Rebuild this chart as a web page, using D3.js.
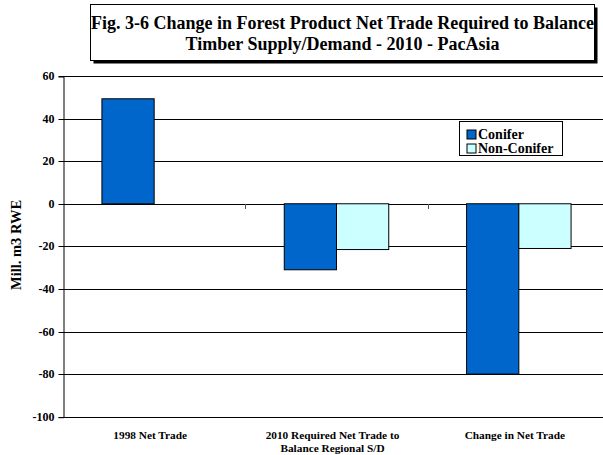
<!DOCTYPE html>
<html lang="en">
<head>
    <meta charset="utf-8">
    <title>Fig. 3-6 Forest Product Net Trade - PacAsia</title>
    <script src="https://d3js.org/d3.v7.min.js"></script>
    <style>
        body { margin: 0; background: #fff; }
        text { font-family: "Liberation Serif", "Times New Roman", serif; font-weight: bold; }
    </style>
</head>
<body>
<script>
    // chart data
    const categories = ["1998 Net Trade", "2010 Required Net Trade to|Balance Regional S/D", "Change in Net Trade"];
    const series = ["Conifer", "Non-Conifer"];
    const conifer = [49.3, -31, -80];
    const nonConifer = [0, -21.5, -21];
    const yTicks = [-100, -80, -60, -40, -20, 0, 20, 40, 60];
    const colors = ["#0066CC", "#CCFFFF"];

    const W = 603, H = 455;
    const plotLeft = 63, plotTop = 76, plotBottom = 416.7, plotRight = 610;

    const svg = d3.select("body").append("svg")
        .attr("width", W)
        .attr("height", H);

    // scales
    const x0 = d3.scaleBand().domain(d3.range(categories.length)).range([plotLeft, plotRight]);
    const x1 = d3.scaleBand().domain(series).range([0, x0.bandwidth()])
        .paddingInner(0).paddingOuter(0.745);
    const y = d3.scaleLinear().domain([-100, 60]).range([plotBottom, plotTop]);

    // gridlines
    svg.append("g")
        .selectAll("line")
        .data(yTicks)
        .join("line")
        .attr("x1", plotLeft).attr("x2", W)
        .attr("y1", d => Math.round(y(d)) + 0.5)
        .attr("y2", d => Math.round(y(d)) + 0.5)
        .attr("stroke", "#000")
        .attr("stroke-width", 1);

    // y axis (hyphen instead of unicode minus, like the original)
    const yAxis = svg.append("g")
        .attr("transform", "translate(" + (plotLeft + 0.5) + ",0.5)")
        .call(d3.axisLeft(y).tickValues(yTicks).tickSize(5).tickPadding(4).tickFormat(d => String(d)));
    yAxis.select(".domain").attr("stroke", "#000");
    yAxis.selectAll("text").attr("font-size", 12).attr("fill", "#000");
    yAxis.selectAll(".tick").attr("transform", d => "translate(0," + Math.round(y(d)) + ")");

    // category tick marks on the zero line
    svg.append("g")
        .selectAll("line")
        .data(d3.range(1, categories.length))
        .join("line")
        .attr("x1", d => Math.round(x0(d)) + 0.5)
        .attr("x2", d => Math.round(x0(d)) + 0.5)
        .attr("y1", Math.round(y(0)))
        .attr("y2", Math.round(y(0)) + 5)
        .attr("stroke", "#555");

    // bars
    const rows = categories.map((c, i) => [
        {s: series[0], v: conifer[i], c: colors[0]},
        {s: series[1], v: nonConifer[i], c: colors[1]}
    ]);

    svg.append("g")
        .selectAll("g")
        .data(rows)
        .join("g")
        .attr("transform", (d, i) => "translate(" + x0(i) + ",0)")
        .selectAll("rect")
        .data(d => d.filter(b => b.v !== 0))
        .join("rect")
        .attr("x", d => x1(d.s))
        .attr("width", x1.bandwidth())
        .attr("y", d => y(Math.max(0, d.v)))
        .attr("height", d => Math.abs(y(d.v) - y(0)))
        .attr("fill", d => d.c)
        .attr("stroke", "#000")
        .attr("stroke-width", 1);

    // category labels
    svg.append("g")
        .selectAll("text")
        .data(categories)
        .join("text")
        .attr("x", (d, i) => x0(i) + x0.bandwidth() / 2 - 4)
        .attr("y", 439)
        .attr("text-anchor", "middle")
        .attr("font-size", 11.3)
        .selectAll("tspan")
        .data(d => d.split("|"))
        .join("tspan")
        .attr("x", function() { return this.parentNode.getAttribute("x"); })
        .attr("dy", (d, i) => i === 0 ? 0 : 12.5)
        .text(d => d);

    // y axis title
    svg.append("text")
        .attr("transform", "translate(21,245) rotate(-90)")
        .attr("text-anchor", "middle")
        .attr("font-size", 14.5)
        .text("Mill. m3 RWE");

    // legend
    const lg = svg.append("g").attr("transform", "translate(459.5,121.5)");
    lg.append("rect").attr("width", 103).attr("height", 34)
        .attr("fill", "#fff").attr("stroke", "#000");
    series.forEach((s, i) => {
        lg.append("rect")
            .attr("x", 7.5).attr("y", 8.5 + i * 14)
            .attr("width", 9).attr("height", 9)
            .attr("fill", colors[i]).attr("stroke", "#000");
        lg.append("text")
            .attr("x", 18.5).attr("y", 17 + i * 14)
            .attr("font-size", 14)
            .text(s);
    });

    // title box with shadow
    const tb = {x: 90.5, y: 4.5, w: 504, h: 56};
    svg.append("rect").attr("x", tb.x + 3).attr("y", tb.y + 3)
        .attr("width", tb.w).attr("height", tb.h).attr("fill", "#000");
    svg.append("rect").attr("x", tb.x).attr("y", tb.y)
        .attr("width", tb.w).attr("height", tb.h)
        .attr("fill", "#fff").attr("stroke", "#000");
    const title = ["Fig. 3-6 Change in Forest Product Net Trade Required to Balance",
                   "Timber Supply/Demand - 2010 - PacAsia"];
    svg.append("g")
        .selectAll("text")
        .data(title)
        .join("text")
        .attr("x", tb.x + tb.w / 2)
        .attr("y", (d, i) => 29 + i * 20.5)
        .attr("text-anchor", "middle")
        .attr("font-size", 18)
        .text(d => d);
</script>
</body>
</html>
